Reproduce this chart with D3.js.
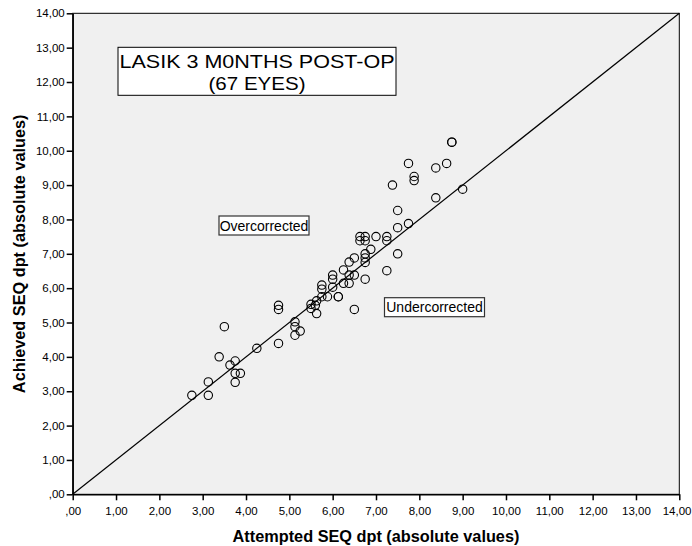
<!DOCTYPE html>
<meta charset="utf-8">
<script src="https://d3js.org/d3.v7.min.js"></script>
<style>
  body { margin: 0; background: #fff; }
  text { font-family: "Liberation Sans", Arial, sans-serif; }
</style>
<div id="chart"></div>
<script>

// attempted (x) and achieved (y) SEQ, one entry per eye
var attempted = [2.75, 3.13, 3.13, 3.75, 3.75, 3.87, 3.63, 3.75, 3.38, 4.25,
                 3.50, 4.75, 4.75, 4.75, 5.13, 5.13, 5.25, 5.13, 5.50, 5.50,
                 5.63, 5.60, 5.63, 5.75, 5.75, 5.75, 5.88, 6.00, 6.00, 6.00,
                 6.13, 6.13, 6.25, 6.25, 6.38, 6.38, 6.38, 6.50, 6.50, 6.50,
                 6.63, 6.75, 6.63, 6.75, 6.75, 6.75, 6.75, 6.75, 6.88, 7.00,
                 7.25, 7.25, 7.25, 7.50, 7.50, 7.75, 7.50, 7.38, 7.75, 7.88,
                 7.88, 8.38, 8.63, 8.38, 9.00, 8.75, 8.75]
var achieved  = [2.88, 2.88, 3.27, 3.26, 3.52, 3.52, 3.76, 3.88, 4.00, 4.25,
                 4.88, 4.39, 5.38, 5.50, 5.02, 4.88, 4.75, 4.63, 5.53, 5.41,
                 5.63, 5.50, 5.26, 6.09, 5.97, 5.75, 5.75, 6.03, 6.38, 6.26,
                 5.75, 5.75, 6.53, 6.14, 6.14, 6.38, 6.76, 6.88, 6.38, 5.38,
                 7.50, 7.50, 7.38, 7.38, 7.00, 6.88, 6.75, 6.26, 7.13, 7.50,
                 7.50, 7.38, 6.51, 7.00, 7.76, 7.88, 8.26, 9.00, 9.63, 9.25,
                 9.13, 9.50, 9.63, 8.63, 8.88, 10.25, 10.25]

var ticks = d3.range(0, 15)
var titleLines = ["LASIK 3 M0NTHS POST-OP", "(67 EYES)"]

var width = 692, height = 546
var margin = {left: 72.7, right: 12.7, top: 13.3, bottom: 51.7}

var svg = d3.select("#chart")
  .append("svg")
    .attr("width", width)
    .attr("height", height)

var x = d3.scaleLinear().domain([0, 14]).range([margin.left, width - margin.right])
var y = d3.scaleLinear().domain([0, 14]).range([height - margin.bottom, margin.top])

// comma decimal, no leading zero
function fmt(d) {
  var s = d3.format(".2f")(d).replace(".", ",")
  return d === 0 ? s.slice(1) : s
}

// plot background
svg.append("rect")
  .attr("x", x(0)).attr("y", y(14))
  .attr("width", x(14) - x(0)).attr("height", y(0) - y(14))
  .attr("fill", "#f0f0f0")
  .attr("stroke", "#000")
  .attr("stroke-width", 1)

// axes
var xAxis = svg.append("g")
  .attr("transform", "translate(0," + y(0) + ")")
  .call(d3.axisBottom(x).tickValues(ticks).tickFormat(fmt).tickSize(6).tickSizeOuter(0))
var yAxis = svg.append("g")
  .attr("transform", "translate(" + x(0) + ",0)")
  .call(d3.axisLeft(y).tickValues(ticks).tickFormat(fmt).tickSize(6).tickSizeOuter(0))

;[xAxis, yAxis].forEach(function(a) {
  a.select(".domain").attr("stroke", "#000").attr("stroke-width", 1.5)
  a.selectAll(".tick line").attr("stroke", "#000").attr("stroke-width", 1.5)
  a.selectAll(".tick text")
    .attr("fill", "#000")
    .style("font-size", "11.5px")
    .style("font-family", "'Liberation Sans', Arial, sans-serif")
})
xAxis.selectAll(".tick text").attr("dy", "1.05em")
yAxis.selectAll(".tick text").attr("x", -8)
// keep the last x label inside the page
xAxis.selectAll(".tick text").filter(function(d) { return d === 14 })
  .attr("text-anchor", "end")
  .attr("x", width - 1 - x(14))

// reference line
svg.append("line")
  .attr("x1", x(0)).attr("y1", y(0))
  .attr("x2", x(14)).attr("y2", y(14))
  .attr("stroke", "#000")
  .attr("stroke-width", 1.2)

// points
svg.append("g")
  .selectAll("circle")
  .data(attempted.map(function(d, i) { return [d, achieved[i]] }))
  .enter()
  .append("circle")
    .attr("cx", function(d) { return x(d[0]) })
    .attr("cy", function(d) { return y(d[1]) })
    .attr("r", 4.2)
    .attr("fill", "none")
    .attr("stroke", "#000")
    .attr("stroke-width", 1.1)

// title box
svg.append("rect")
  .attr("x", 118).attr("y", 47.3)
  .attr("width", 278).attr("height", 48)
  .attr("fill", "#fff").attr("stroke", "#000").attr("stroke-width", 1)
svg.append("text")
  .attr("x", 257).attr("y", 68)
  .attr("text-anchor", "middle")
  .attr("textLength", 275).attr("lengthAdjust", "spacingAndGlyphs")
  .style("font-size", "19px")
  .text(titleLines[0])
svg.append("text")
  .attr("x", 257).attr("y", 89.5)
  .attr("text-anchor", "middle")
  .attr("textLength", 97).attr("lengthAdjust", "spacingAndGlyphs")
  .style("font-size", "19px")
  .text(titleLines[1])

// annotation boxes
function note(label, bx, by, bw, bh) {
  svg.append("rect")
    .attr("x", bx).attr("y", by).attr("width", bw).attr("height", bh)
    .attr("fill", "#fff").attr("stroke", "#333").attr("stroke-width", 1.2)
  svg.append("text")
    .attr("x", bx + bw / 2).attr("y", by + bh / 2 + 5)
    .attr("text-anchor", "middle")
    .style("font-size", "14px")
    .text(label)
}
note("Overcorrected", 219, 216, 90, 19)
note("Undercorrected", 384.5, 297.7, 100, 19)

// axis titles
svg.append("text")
  .attr("x", (x(0) + x(14)) / 2).attr("y", 542)
  .attr("text-anchor", "middle")
  .style("font-size", "16.3px").style("font-weight", "bold")
  .text("Attempted SEQ dpt (absolute values)")
svg.append("text")
  .attr("transform", "translate(25," + ((y(0) + y(14)) / 2) + ") rotate(-90)")
  .attr("text-anchor", "middle")
  .style("font-size", "16.3px").style("font-weight", "bold")
  .text("Achieved SEQ dpt (absolute values)")

</script>
